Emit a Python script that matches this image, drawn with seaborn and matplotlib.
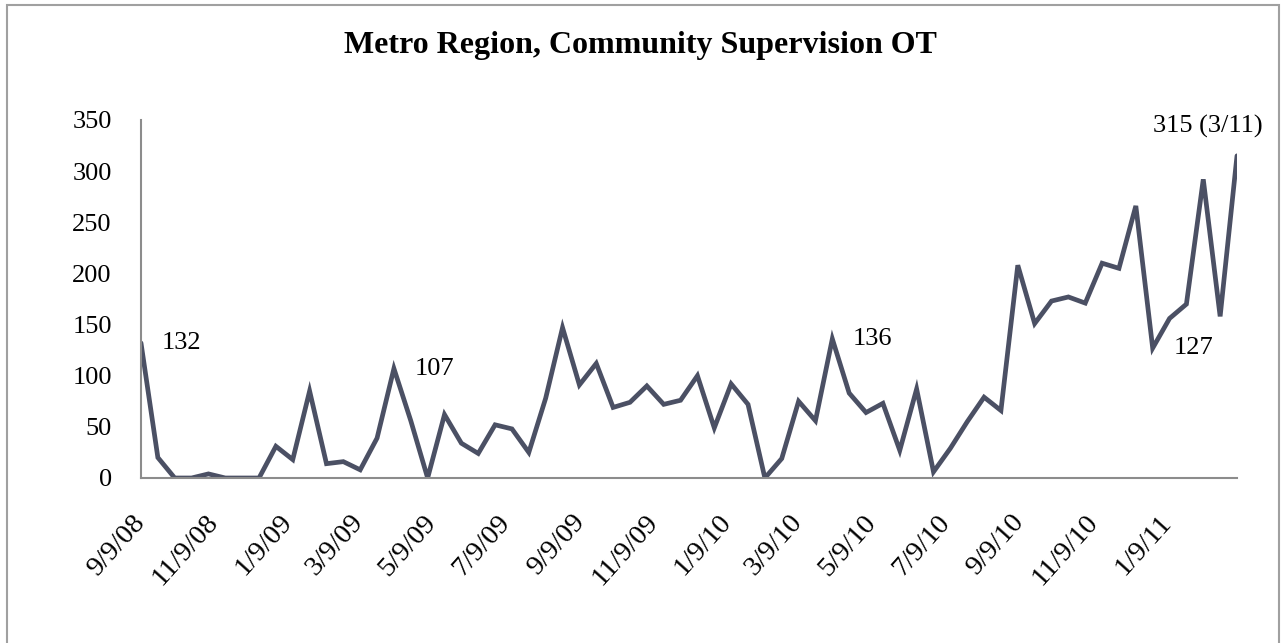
import matplotlib
matplotlib.use('Agg')
import matplotlib.pyplot as plt
import pandas as pd
import seaborn as sns
from matplotlib.patches import Rectangle

# biweekly pay periods, 9/9/08 .. 3/8/11
start_date = '2008-09-09'
ot_hours = [132, 20, 0, 0, 4, 0, 0, 0, 31, 18,
            85, 14, 16, 8, 39, 107, 56, 0, 62, 34,
            24, 52, 48, 25, 78, 147, 91, 112, 69, 74,
            90, 72, 76, 100, 49, 92, 72, 0, 19, 75,
            56, 136, 83, 64, 73, 27, 87, 6, 29, 55,
            79, 66, 208, 151, 173, 177, 171, 210, 205, 266,
            127, 156, 170, 292, 158, 315]
tick_labels = ['9/9/08', '11/9/08', '1/9/09', '3/9/09', '5/9/09', '7/9/09',
               '9/9/09', '11/9/09', '1/9/10', '3/9/10', '5/9/10', '7/9/10',
               '9/9/10', '11/9/10', '1/9/11']
y_ticks = [0, 50, 100, 150, 200, 250, 300, 350]
# (point index, label text)
callouts = [(0, '132'), (15, '107'), (41, '136'), (60, '127'), (65, '315 (3/11)')]

df = pd.DataFrame({'date': pd.date_range(start_date, periods=len(ot_hours), freq='14D'),
                   'ot': ot_hours})

sns.set_style('white')
plt.rcParams['font.family'] = ['Liberation Serif', 'DejaVu Serif']
plt.rcParams['text.color'] = 'black'
plt.rcParams['xtick.color'] = 'black'
plt.rcParams['ytick.color'] = 'black'

fig = plt.figure(figsize=(12.81, 6.43), dpi=100)
ax = fig.add_axes([141 / 1281, 1 - 478 / 643, (1237 - 141) / 1281, (478 - 120) / 643])

sns.lineplot(data=df, x='date', y='ot', ax=ax, color='#4B5064', linewidth=3.4,
             solid_joinstyle='miter')

ax.set_xlim(df['date'].iloc[0], df['date'].iloc[-1])
ax.set_ylim(0, 350)
ax.set_yticks(y_ticks)
ax.set_yticklabels([str(v) for v in y_ticks], fontsize=19)
tick_dates = pd.to_datetime(tick_labels, format='%m/%d/%y')
ax.set_xticks(tick_dates)
ax.set_xticklabels(tick_labels, fontsize=20.5, rotation=48, ha='right',
                   va='center', rotation_mode='anchor')
ax.tick_params(axis='x', length=0, pad=29)
ax.tick_params(axis='y', length=0, pad=21)
ax.set_xlabel('')
ax.set_ylabel('')
for side in ['top', 'right']:
    ax.spines[side].set_visible(False)
for side in ['left', 'bottom']:
    ax.spines[side].set_color('#8C8C8C')
    ax.spines[side].set_linewidth(1.5)

for idx, text in callouts:
    d = df['date'].iloc[idx]
    v = df['ot'].iloc[idx]
    if text.startswith('315'):
        ax.annotate(text, xy=(d, v), xytext=(-21, 21), textcoords='offset points',
                    ha='center', va='center', fontsize=19, annotation_clip=False)
    else:
        ax.annotate(text, xy=(d, v), xytext=(15, 0), textcoords='offset points',
                    ha='left', va='center', fontsize=19)

fig.text(0.5, 1 - 45 / 643, 'Metro Region, Community Supervision OT',
         ha='center', va='center', fontsize=23, fontweight='bold')

fig.patches.append(Rectangle((7 / 1281, -0.05), 1272 / 1281, 1.05 - 5 / 643,
                             transform=fig.transFigure, fill=False,
                             edgecolor='#A0A0A0', linewidth=1.5))

fig.savefig('out.png', dpi=100)
